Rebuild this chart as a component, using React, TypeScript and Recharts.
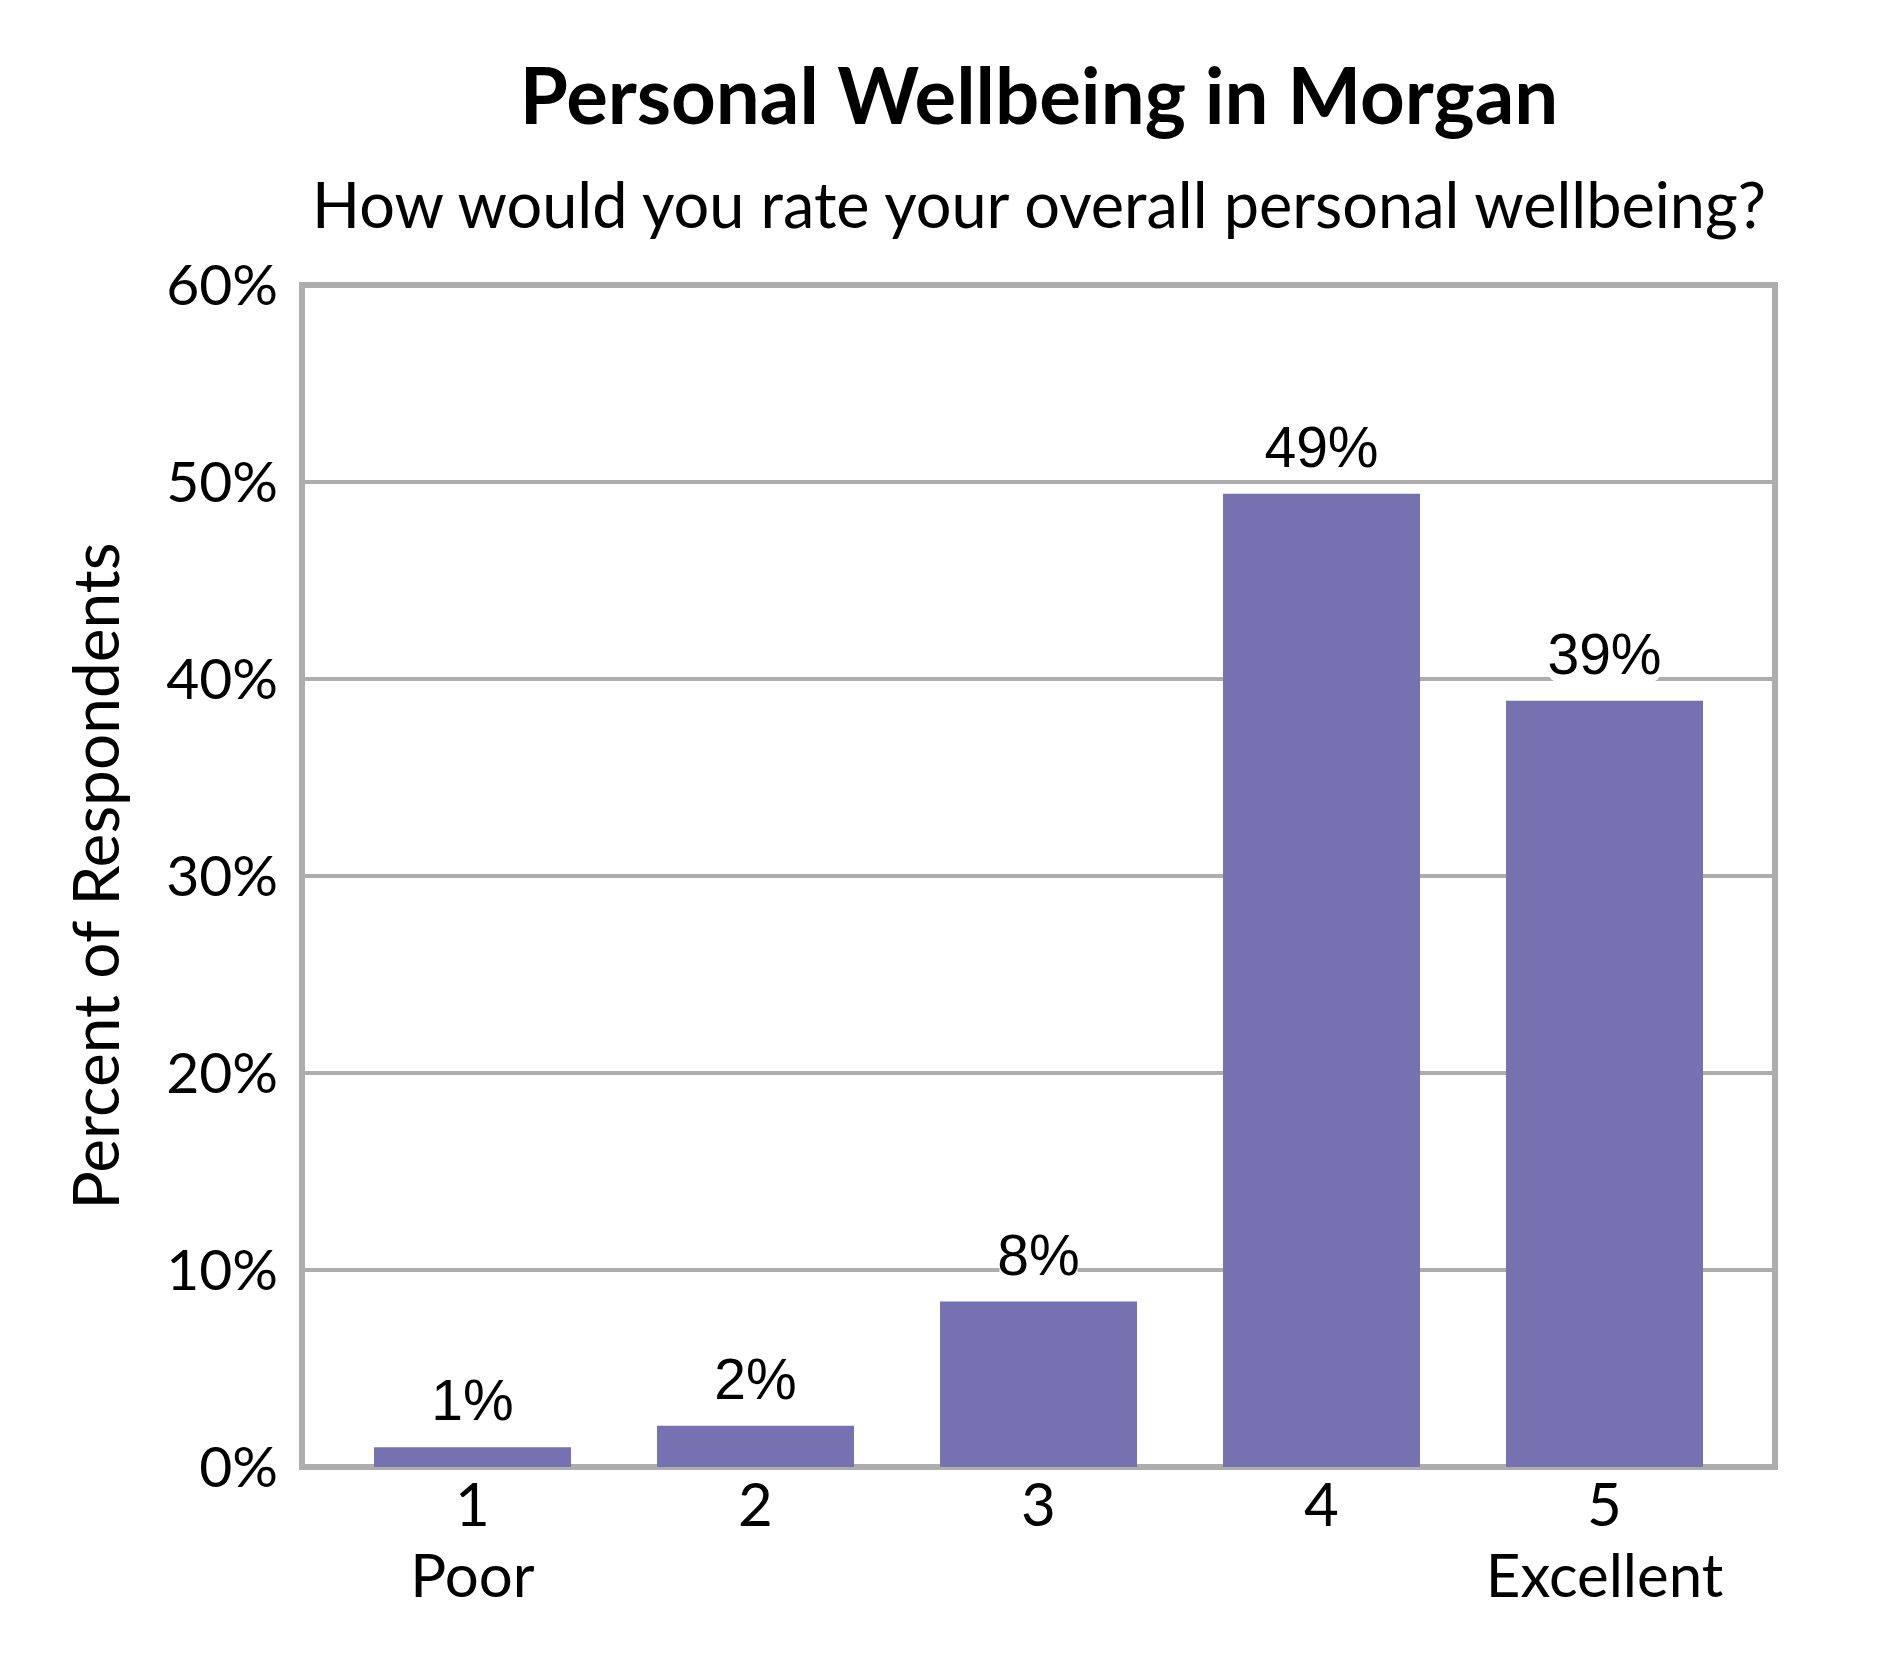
import React from 'react';
import {
  BarChart, Bar, XAxis, YAxis, CartesianGrid, LabelList, usePlotArea,
} from 'recharts';

const categories = ['1', '2', '3', '4', '5'];
const anchorLabels = ['Poor', '', '', '', 'Excellent'];
const percentValues = [1.0, 2.1, 8.4, 49.4, 38.9];
const yTicks = [0, 10, 20, 30, 40, 50, 60];

const TITLE = 'Personal Wellbeing in Morgan';
const SUBTITLE = 'How would you rate your overall personal wellbeing?';
const Y_LABEL = 'Percent of Respondents';

const BAR_COLOR = '#7672B2';
const GRID_COLOR = '#ADADAD';
const UI_FONT = 'Lato, "Open Sans", sans-serif';
const LABEL_FONT = '"Liberation Sans", Arial, sans-serif';

const data = categories.map((name, i) => ({
  name,
  anchor: anchorLabels[i],
  value: percentValues[i],
}));

// plot border, drawn from the chart's own plot area
function PlotFrame() {
  const area = usePlotArea ? usePlotArea() : null;
  if (!area) return null;
  return (
    <rect
      x={area.x}
      y={area.y}
      width={area.width}
      height={area.height}
      fill="none"
      stroke={GRID_COLOR}
      strokeWidth={6}
    />
  );
}

function XTick(props: any) {
  const { x, y, payload, index } = props;
  return (
    <g transform={`translate(${x},${y})`}>
      <text textAnchor="middle" fontFamily={UI_FONT} fontSize={60} fill="#000">
        <tspan x={0} dy={51}>{payload.value}</tspan>
        {anchorLabels[index] ? <tspan x={0} dy={71}>{anchorLabels[index]}</tspan> : null}
      </text>
    </g>
  );
}

function ValueLabel(props: any) {
  const { x, y, width, value } = props;
  const cx = x + width / 2;
  const text = `${Math.round(value)}%`;
  const base = y - 27;
  const w = text.length * 33 + 12;
  return (
    <g>
      <rect x={cx - w / 2} y={base - 47} width={w} height={55} rx={8} fill="#fff" />
      <text x={cx} y={base} textAnchor="middle" fontFamily={LABEL_FONT} fontSize={57} fill="#000">
        {text}
      </text>
    </g>
  );
}

export default function App() {
  return (
    <div style={{ position: 'absolute', left: 0, top: 0, width: 1890, height: 1680, background: '#fff' }}>
      <BarChart
        width={1890}
        height={1680}
        data={data}
        margin={{ top: 285, right: 115, left: 212, bottom: 93 }}
        barCategoryGap="15.2%"
      >
        <CartesianGrid vertical={false} stroke={GRID_COLOR} strokeWidth={4} />
        <XAxis
          dataKey="name"
          height={120}
          axisLine={false}
          tickLine={false}
          tick={<XTick />}
          interval={0}
          padding={{ left: 29, right: 29 }}
        />
        <YAxis
          width={90}
          domain={[0, 60]}
          ticks={yTicks}
          axisLine={false}
          tickLine={false}
          tickMargin={18}
          tickFormatter={(v: number) => `${v}%`}
          tick={{ fontFamily: UI_FONT, fontSize: 57, fill: '#000' }}
        />
        <PlotFrame />
        <Bar dataKey="value" fill={BAR_COLOR} isAnimationActive={false}>
          <LabelList dataKey="value" content={<ValueLabel />} />
        </Bar>
      </BarChart>
      <svg
        width={1890}
        height={1680}
        style={{ position: 'absolute', left: 0, top: 0, pointerEvents: 'none' }}
      >
        <text x={1039} y={124} textAnchor="middle" fontFamily={UI_FONT} fontWeight={700} fontSize={78} fill="#000">
          {TITLE}
        </text>
        <text x={1039} y={228} textAnchor="middle" fontFamily={UI_FONT} fontSize={63} fill="#000">
          {SUBTITLE}
        </text>
        <text
          x={94}
          y={876}
          transform="rotate(-90 94 876)"
          textAnchor="middle"
          dominantBaseline="central"
          fontFamily={UI_FONT}
          fontSize={64}
          fill="#000"
        >
          {Y_LABEL}
        </text>
      </svg>
    </div>
  );
}
